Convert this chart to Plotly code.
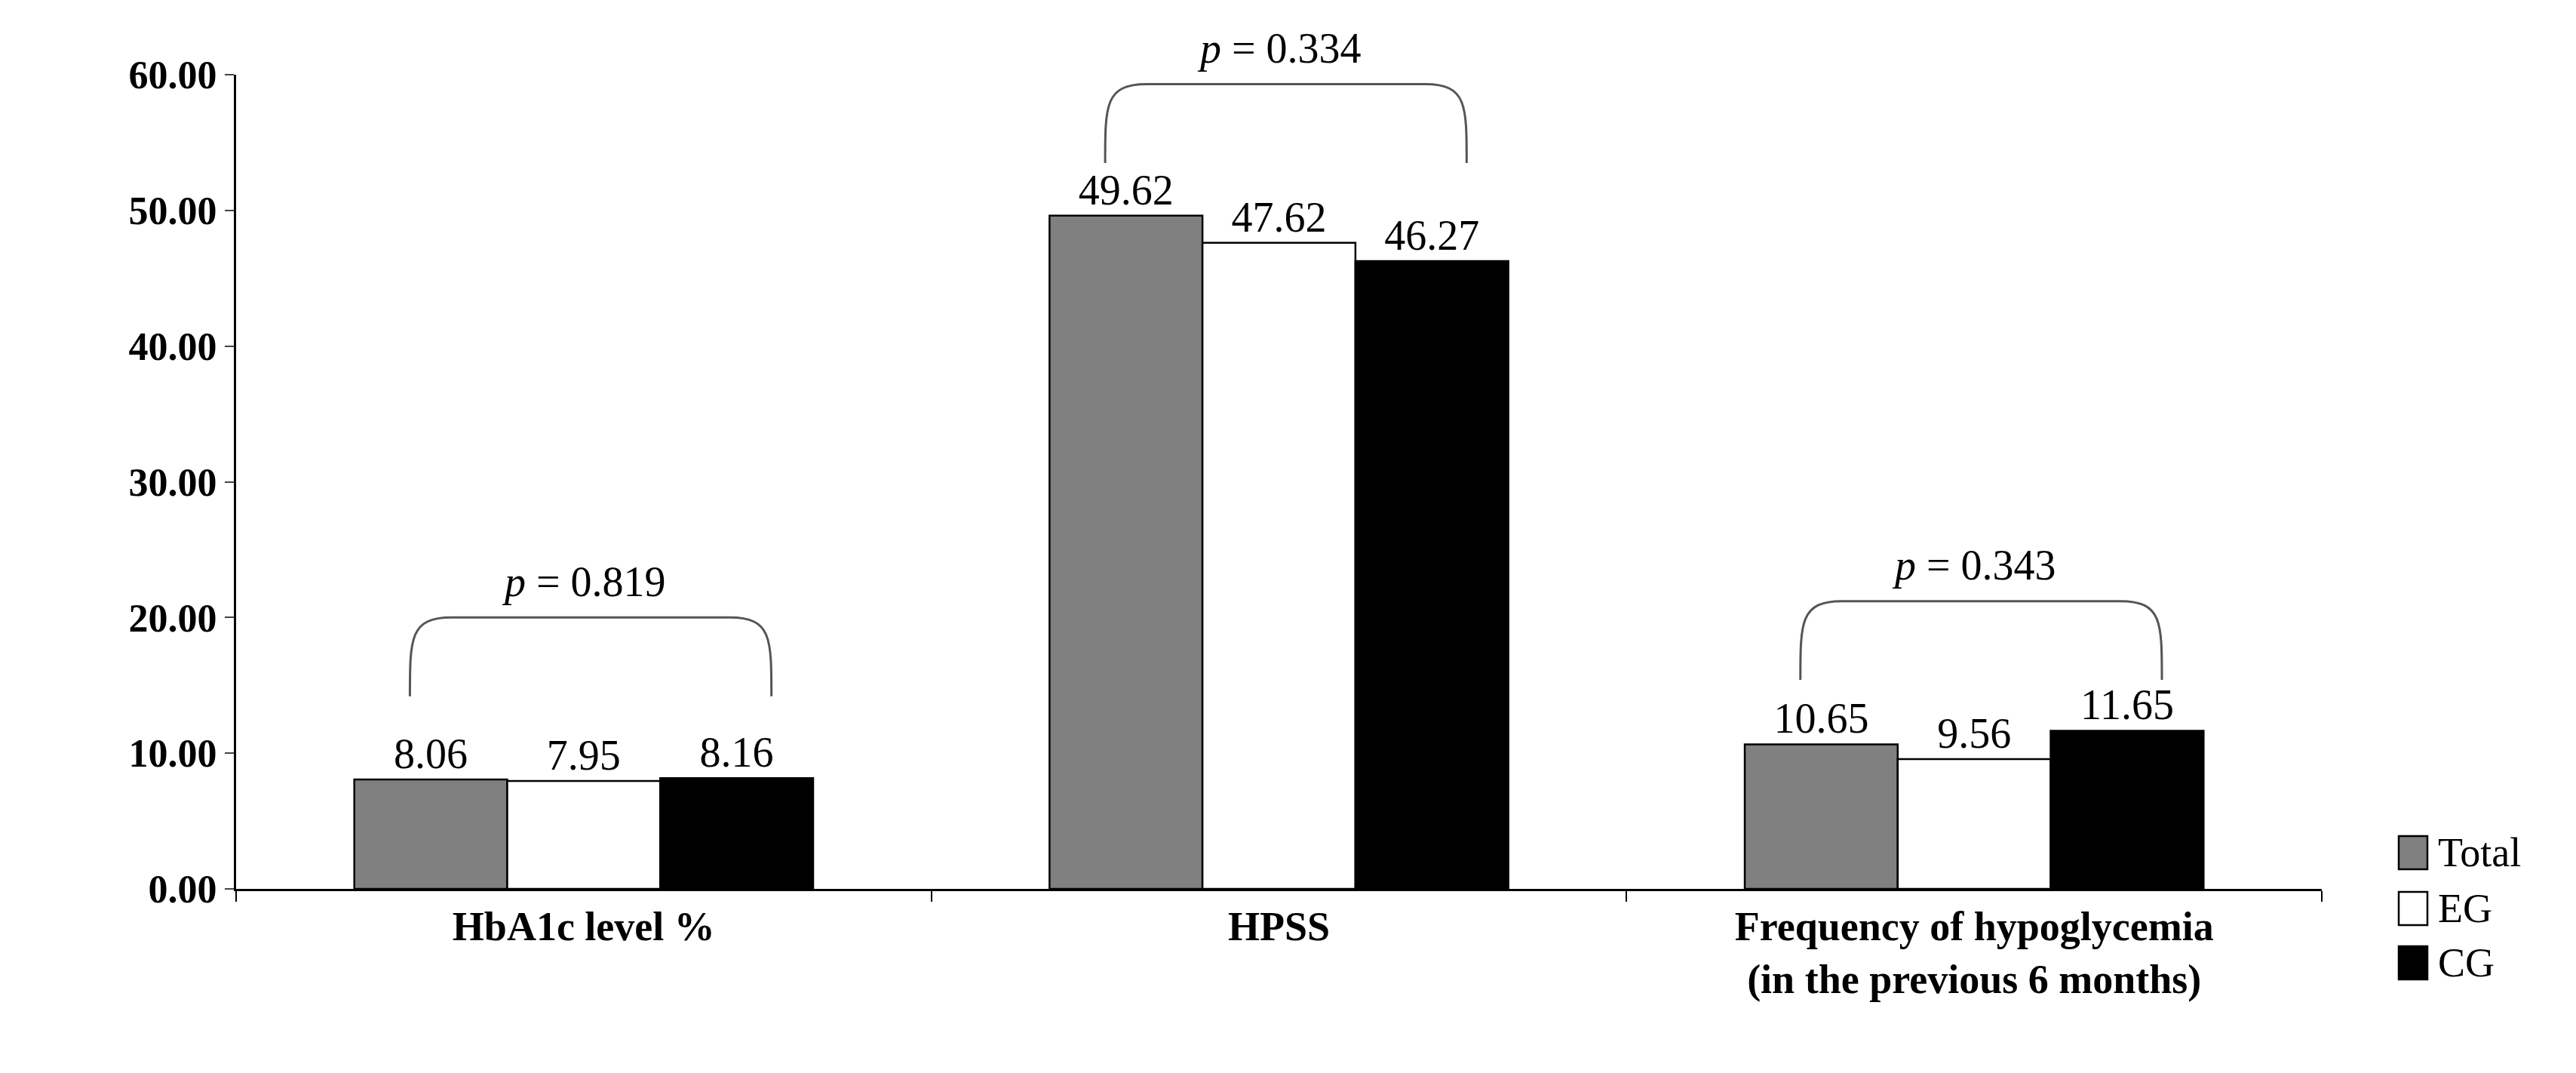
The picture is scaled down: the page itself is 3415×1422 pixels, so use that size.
import plotly.graph_objects as go

categories = ["<b>HbA1c level %</b>", "<b>HPSS</b>", "<b>Frequency of hypoglycemia<br>(in the previous 6 months)</b>"]
series_names = ["Total", "EG", "CG"]
total = [8.06, 49.62, 10.65]
eg = [7.95, 47.62, 9.56]
cg = [8.16, 46.27, 11.65]
p_values = ["0.819", "0.334", "0.343"]
bracket_top = [20.0, 59.3, 21.2]
colors = ["#808080", "#ffffff", "#000000"]

F = "Liberation Serif, Times New Roman, serif"
YMAX = 60
fig = go.Figure()
for name, vals, c in zip(series_names, [total, eg, cg], colors):
    fig.add_trace(go.Bar(
        name=name, x=categories, y=vals, marker=dict(color=c, line=dict(color="black", width=2.5)),
        text=[f"{v:.2f}" for v in vals], textposition="outside", cliponaxis=False, showlegend=False,
        textfont=dict(family=F, size=56, color="black")))

for i, (pv, top) in enumerate(zip(p_values, bracket_top)):
    x0, x1 = i - 0.25, i + 0.27
    h = 5.8
    r = 0.06
    path = (f"M {x0} {top-h} C {x0} {top-1.5}, {x0} {top}, {x0+r} {top} "
            f"L {x1-r} {top} C {x1} {top}, {x1} {top-1.5}, {x1} {top-h}")
    fig.add_shape(type="path", path=path, xref="x", yref="y", line=dict(color="#555555", width=3))
    fig.add_annotation(x=i, y=(top + 0.8) / YMAX, xref="x", yref="paper", yanchor="bottom", showarrow=False,
                       text=f"<i>p</i> = {pv}", font=dict(family=F, size=56, color="black"))

# manual legend (paper coords)
L, PW, T, PH = 305, 2765, 91, 1079
for name, c, py in zip(series_names, colors, [1122, 1196, 1268]):
    fig.add_shape(type="rect", xref="paper", yref="paper",
                  x0=(3172 - L) / PW, x1=(3210 - L) / PW,
                  y0=(1170 - (py + 22)) / PH, y1=(1170 - (py - 22)) / PH,
                  fillcolor=c, line=dict(color="black", width=2.5))
    fig.add_annotation(xref="paper", yref="paper", x=(3222 - L) / PW, y=(1170 - py) / PH,
                       xanchor="left", yanchor="middle", showarrow=False, text=name,
                       font=dict(family=F, size=54, color="black"))

fig.update_layout(
    width=3415, height=1422, barmode="group", bargap=0.34, bargroupgap=0,
    plot_bgcolor="white", paper_bgcolor="white",
    margin=dict(l=305, r=345, t=91, b=252), showlegend=False,
    font=dict(family=F, color="black"),
    xaxis=dict(showline=True, linecolor="black", linewidth=3, tickson="boundaries", ticks="outside",
               ticklen=14, tickwidth=2, tickcolor="black",
               tickfont=dict(family=F, size=54, color="black")),
    yaxis=dict(range=[0, YMAX], dtick=10, tickformat=".2f", showline=True, linecolor="black",
               linewidth=3, ticks="outside", ticklen=12, tickwidth=2, showgrid=False, zeroline=False,
               tickfont=dict(family=F, size=52, color="black"), tickprefix="<b>", ticksuffix="</b>"),
)
fig.write_html("out.html")
